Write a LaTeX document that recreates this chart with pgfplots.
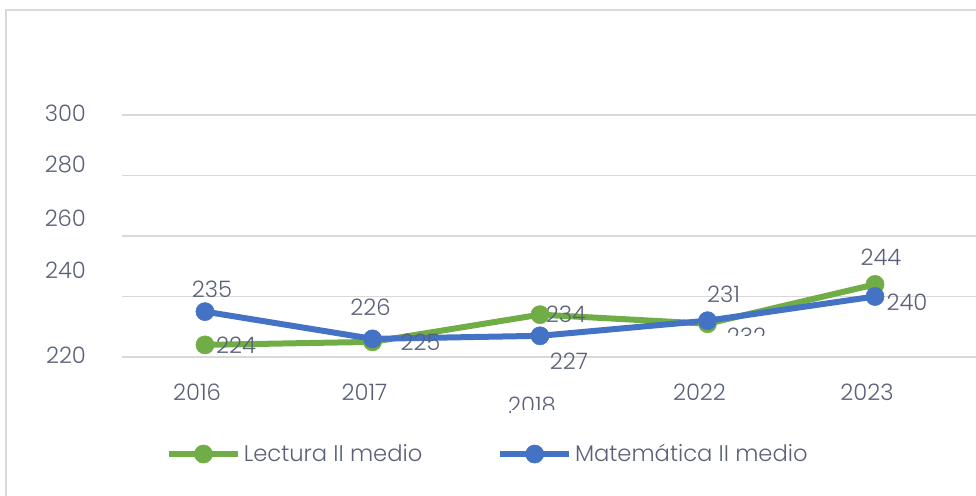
\documentclass[border=0pt]{standalone}
\usepackage{fontspec}
\setmainfont{Poppins}[UprightFont=* Light]
\usepackage{pgfplots}
\pgfplotsset{compat=1.18}
\definecolor{lectura}{HTML}{70AD47}
\definecolor{mate}{HTML}{4472C4}
\definecolor{txt}{HTML}{5B6079}
\definecolor{gridgray}{HTML}{D9D9D9}

\begin{document}
\begin{tikzpicture}[font=\fontsize{17}{20}\selectfont]
\begin{axis}[
  scale only axis, width=640.5pt, height=183.8pt,
  xmin=-0.4955, xmax=4.603, ymin=220, ymax=301,
  axis line style={draw=none}, major tick length=0pt,
  clip=false,
  xtick={0,...,4},
  xticklabels={2016,2017,\raisebox{-9.75pt}[\height]{2018},2022,2023},
  xticklabel style={text=txt, xshift=-6pt, yshift=-16.5pt},
  ytick={220,240,...,300}, yticklabels={},
  ymajorgrids, grid style={gridgray, line width=1.2pt},
  extra y ticks={220.66,248.76,265.95,283.47,300.66},
  extra y tick labels={220,240,260,280,300},
  extra y tick style={grid=none, yticklabel style={text=txt, anchor=east, xshift=-23.5pt}},
  legend style={at={(0.4286,-0.396)}, anchor=center, draw=none, fill=none,
    legend columns=2, text=txt,
    /tikz/every even column/.append style={column sep=54pt}},
  legend image code/.code={\draw[mark repeat=2,mark phase=2,#1] plot coordinates {(0pt,0pt) (26pt,0pt) (52pt,0pt)};},
]
\coordinate (O) at (rel axis cs:0,0);
\addplot[lectura, line width=4.5pt, mark=*, mark size=6.8pt, mark options={line width=0.4pt}]
  coordinates {(0,224) (1,225) (2,234) (3,231) (4,244)};
\addlegendentry{Lectura II medio}
\addplot[mate, line width=4.5pt, mark=*, mark size=6.8pt, mark options={line width=0.4pt}]
  coordinates {(0,235) (1,226) (2,227) (3,232) (4,240)};
\addlegendentry{Matemática II medio}

% data labels
\begin{scope}[every node/.style={text=txt}]
\node at ([xshift=23.25pt]axis cs:0,224) {224};
\node at ([xshift=36pt]axis cs:1,225) {225};
\node at ([xshift=19.5pt]axis cs:2,234) {234};
\node at ([xshift=12pt,yshift=21.75pt]axis cs:3,231) {231};
\node at ([xshift=4.5pt,yshift=20.25pt]axis cs:4,244) {244};
\node at ([xshift=5.25pt,yshift=16.5pt]axis cs:0,235) {235};
\node at ([xshift=-1.5pt,yshift=24pt]axis cs:1,226) {226};
\node at ([xshift=21.75pt,yshift=-18.75pt]axis cs:2,227) {227};
\node at ([xshift=29.25pt,yshift=-12pt]axis cs:3,232) {232};
\node at ([xshift=24pt,yshift=-4.5pt]axis cs:4,240) {240};
\end{scope}
\end{axis}
% clipped labels as in the reference
\fill[white] ([xshift=452.25pt,yshift=3.75pt]O) rectangle ([xshift=488pt,yshift=15.75pt]O);
\fill[white] ([xshift=292pt,yshift=-56pt]O) rectangle ([xshift=334pt,yshift=-39.75pt]O);
% frame
\draw[gridgray, line width=1.5pt] ([xshift=-87pt,yshift=-104.25pt]O) -- ([xshift=-87pt,yshift=260.25pt]O) -- ([xshift=640.5pt,yshift=260.25pt]O);
\pgfresetboundingbox
\path ([xshift=-91.5pt,yshift=-104.25pt]O) rectangle ([xshift=640.5pt,yshift=267.75pt]O);
\end{tikzpicture}
\end{document}
